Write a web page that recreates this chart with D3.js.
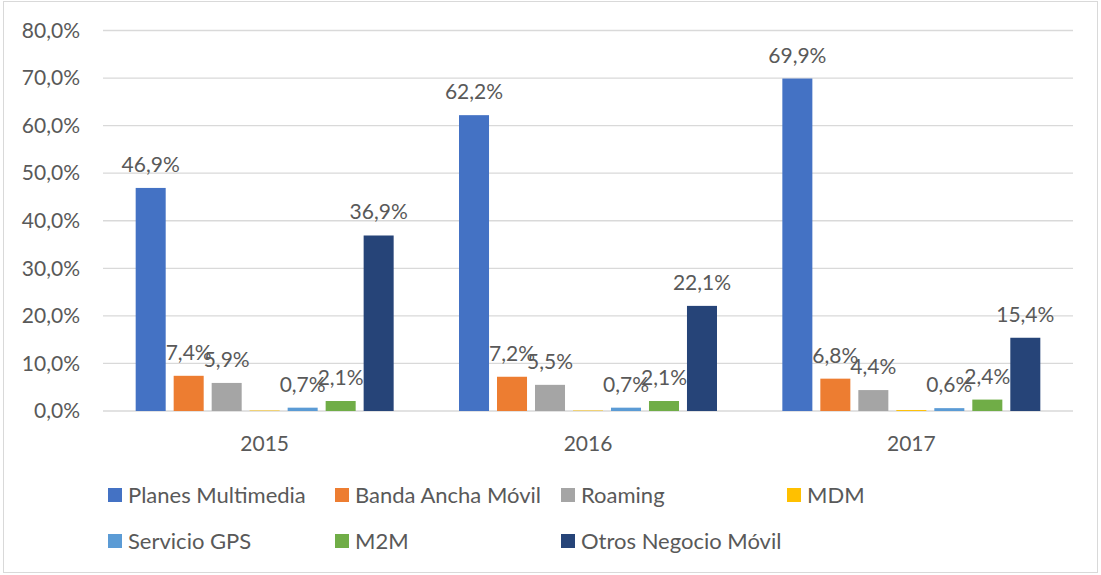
<!DOCTYPE html>
<html><head><meta charset="utf-8">
<script src="https://cdn.jsdelivr.net/npm/d3@7"></script>
<style>body{margin:0;background:#fff}svg{display:block}</style>
</head><body>
<svg id="c" width="1101" height="575"></svg>
<script>
const years = ["2015","2016","2017"];
const seriesNames = ["Planes Multimedia","Banda Ancha Móvil","Roaming","MDM","Servicio GPS","M2M","Otros Negocio Móvil"];
const colors = ["#4472C4","#ED7D31","#A5A5A5","#FFC000","#5B9BD5","#70AD47","#264478"];
const planesMultimedia = [46.9, 62.2, 69.9];
const bandaAnchaMovil = [7.4, 7.2, 6.8];
const roaming = [5.9, 5.5, 4.4];
const mdm = [0.1, 0.1, 0.2];
const servicioGPS = [0.7, 0.7, 0.6];
const m2m = [2.1, 2.1, 2.4];
const otrosNegocioMovil = [36.9, 22.1, 15.4];
const showLabel = [true, true, true, false, true, true, true];
const yTicks = [0,10,20,30,40,50,60,70,80];

const values = [planesMultimedia, bandaAnchaMovil, roaming, mdm, servicioGPS, m2m, otrosNegocioMovil];
const fmt = v => v.toFixed(1).replace(".", ",") + "%";
const font = "Lato, 'Open Sans', sans-serif";
const txt = "#595959";

const svg = d3.select("#c");
svg.append("rect").attr("x",3.5).attr("y",1.5).attr("width",1094).attr("height",571)
  .attr("fill","#fff").attr("stroke","#d9d9d9").attr("stroke-width",1);

const pLeft = 103, pRight = 1073, pTop = 30.5, pBottom = 411;
const y = d3.scaleLinear().domain([0,80]).range([pBottom, pTop]);
const x0 = d3.scaleBand().domain(years).range([pLeft, pRight]).padding(0);
const x1 = d3.scaleBand().domain(d3.range(seriesNames.length)).range([0, x0.bandwidth()])
  .paddingInner(0.21).paddingOuter(0.86);

// gridlines
svg.append("g").selectAll("line").data(yTicks).join("line")
  .attr("x1", pLeft).attr("x2", pRight)
  .attr("y1", d => y(d)).attr("y2", d => y(d))
  .attr("stroke", "#d9d9d9").attr("stroke-width", 1.3);

// y axis labels
const yAxis = d3.axisLeft(y).tickValues(yTicks).tickFormat(d => fmt(d)).tickSize(0).tickPadding(0);
const yg = svg.append("g").attr("transform", `translate(80,0)`).call(yAxis);
yg.select(".domain").remove();
yg.selectAll("text").attr("fill", txt).style("font-family", font).style("font-size", "21px");

// x axis labels
const xAxis = d3.axisBottom(x0).tickSize(0).tickPadding(0);
const xg = svg.append("g").attr("transform", `translate(0,${pBottom + 25})`).call(xAxis);
xg.select(".domain").remove();
xg.selectAll("text").attr("fill", txt).style("font-family", font).style("font-size", "21px");

// bars
const data = [];
years.forEach((yr, gi) => {
  values.forEach((arr, si) => data.push({yr, si, v: arr[gi]}));
});
svg.append("g").selectAll("rect").data(data).join("rect")
  .attr("x", d => x0(d.yr) + x1(d.si))
  .attr("width", x1.bandwidth())
  .attr("y", d => y(d.v))
  .attr("height", d => pBottom - y(d.v))
  .attr("fill", d => colors[d.si]);

// labels
svg.append("g").selectAll("text").data(data.filter(d => showLabel[d.si])).join("text")
  .attr("x", d => x0(d.yr) + x1(d.si) + x1.bandwidth()/2)
  .attr("y", d => y(d.v) - 16)
  .attr("text-anchor", "middle")
  .attr("fill", txt).style("font-family", font).style("font-size", "21px")
  .text(d => fmt(d.v));

// legend
const legX = [108, 335, 561, 787];
const legY = [495, 541];
const leg = svg.append("g").selectAll("g").data(seriesNames).join("g")
  .attr("transform", (d,i) => `translate(${legX[i % 4]},${legY[Math.floor(i/4)]})`);
leg.append("rect").attr("x",0).attr("y",-7).attr("width",14).attr("height",14).attr("fill",(d,i)=>colors[i]);
leg.append("text").attr("x",20).attr("y",0).attr("dy","0.35em")
  .attr("fill", txt).style("font-family", font).style("font-size", "22px").text(d => d);
</script>
</body></html>
